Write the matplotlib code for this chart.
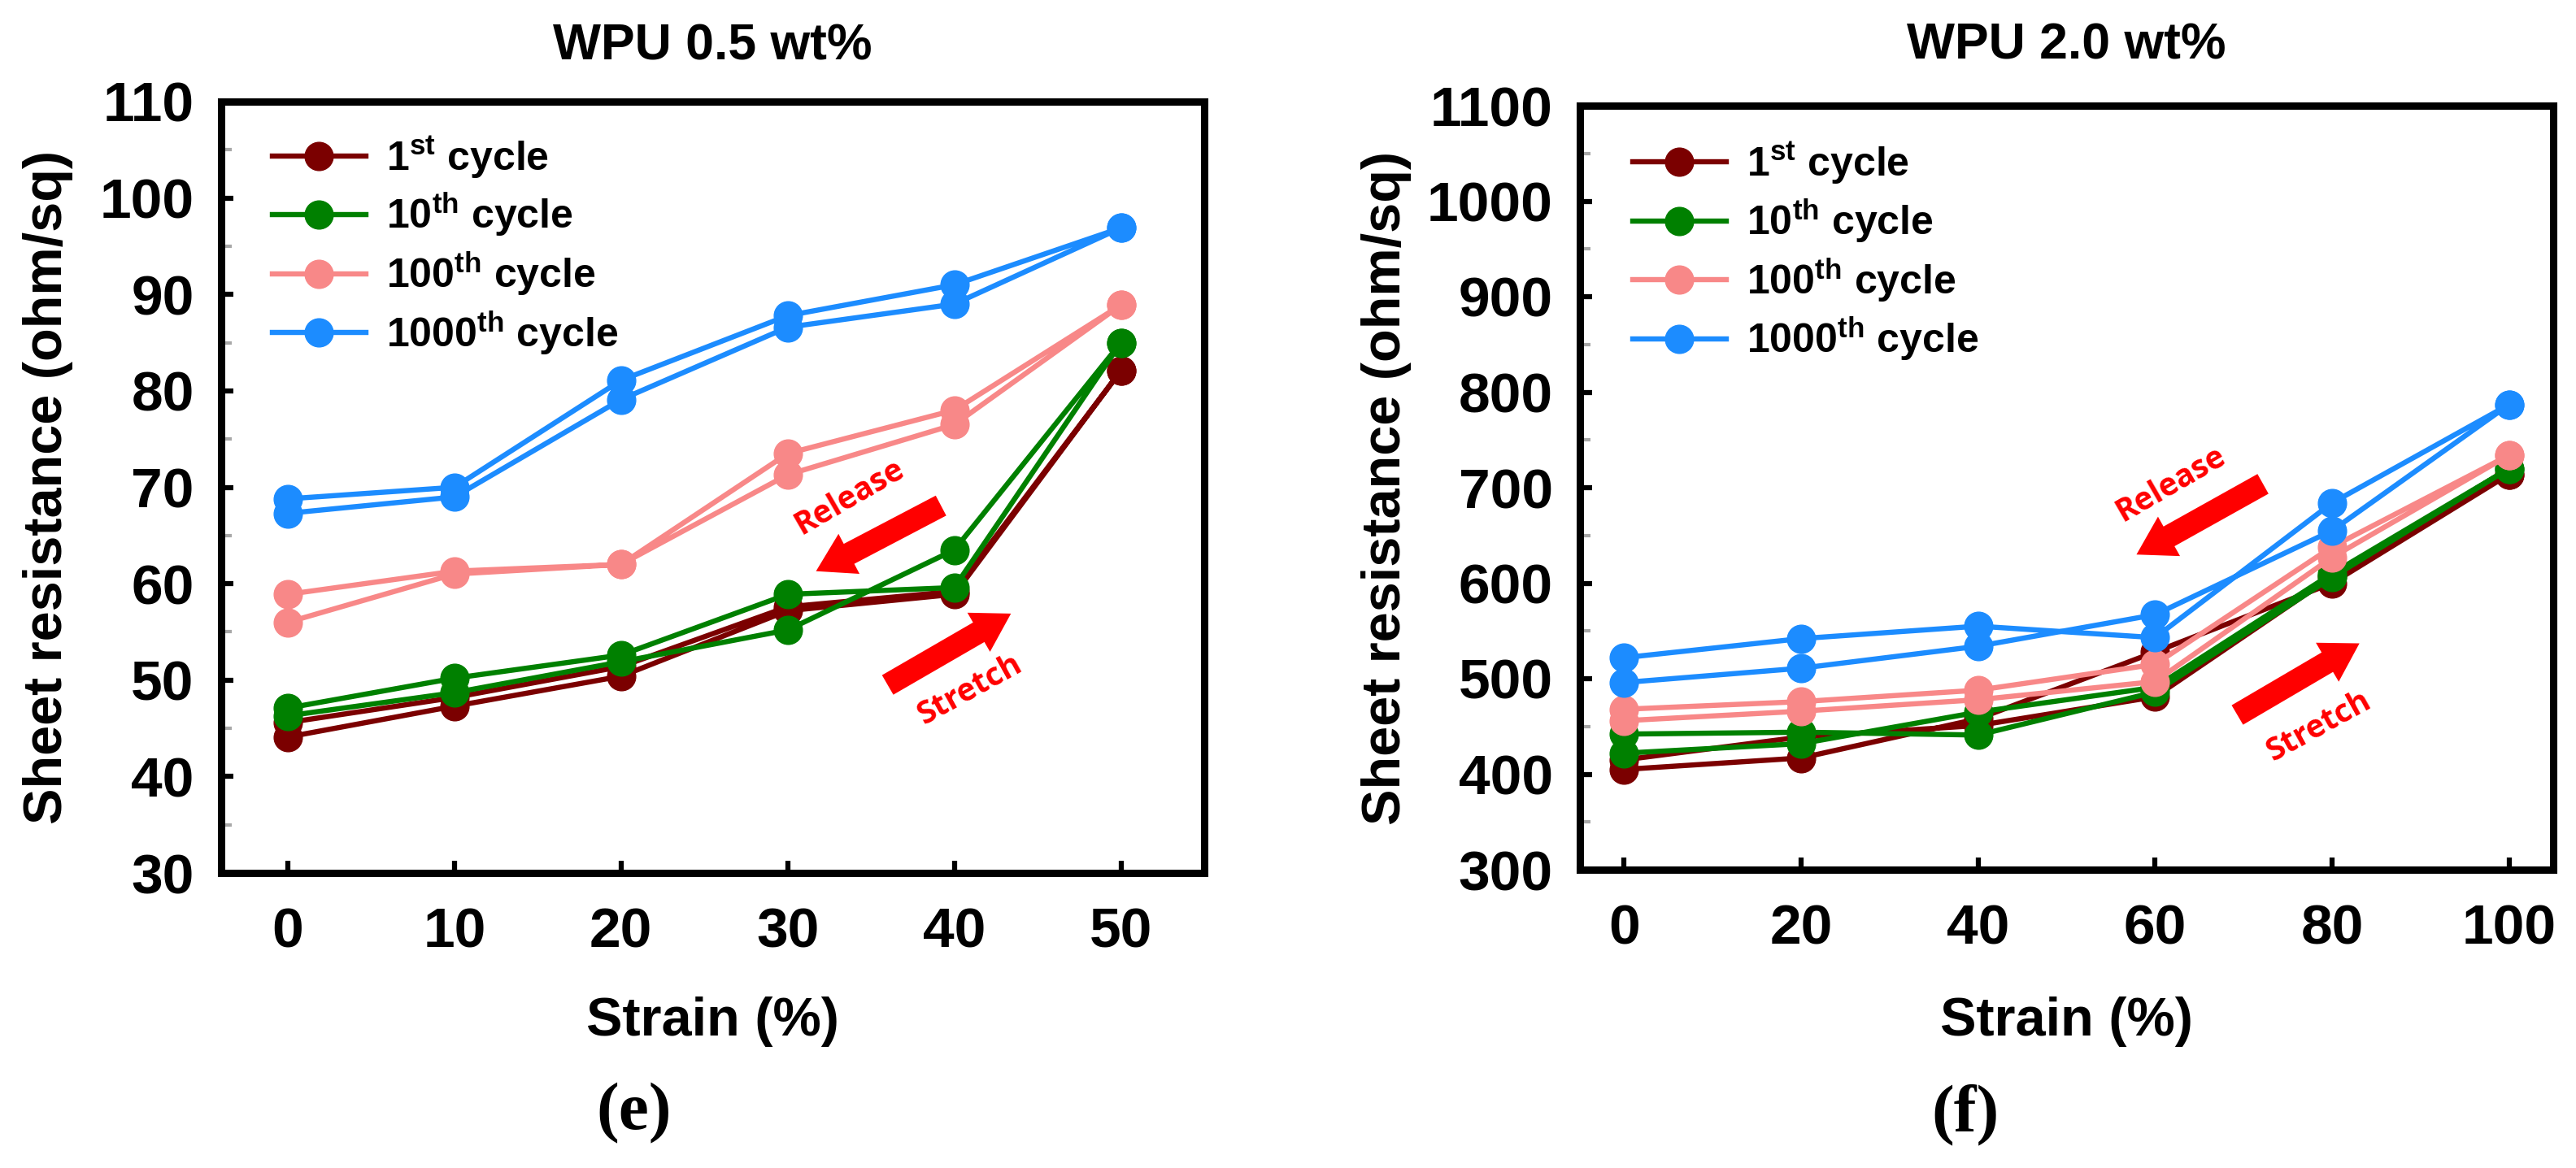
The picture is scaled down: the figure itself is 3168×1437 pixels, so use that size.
import matplotlib
matplotlib.use("Agg")
import matplotlib.pyplot as plt
from matplotlib.ticker import MultipleLocator

plt.rcParams['font.family'] = ['Liberation Sans', 'DejaVu Sans']
plt.rcParams['font.weight'] = 'bold'
plt.rcParams['axes.labelweight'] = 'bold'
plt.rcParams['mathtext.fontset'] = 'custom'
plt.rcParams['mathtext.rm'] = 'Liberation Sans'
plt.rcParams['mathtext.bf'] = 'Liberation Sans:bold'

# ---------------- data ----------------
cycle_labels = [r'1$^{\rm st}$ cycle', r'10$^{\rm th}$ cycle',
                r'100$^{\rm th}$ cycle', r'1000$^{\rm th}$ cycle']
colors = ['#7B0000', '#008000', '#F88888', '#1C8CFF']

# (e) WPU 0.5 wt%
strain_e = [0, 10, 20, 30, 40, 50]
e_1st_stretch = [44.1, 47.3, 50.4, 57.2, 58.9, 82.1]
e_1st_release = [82.1, 59.2, 57.6, 51.4, 48.2, 45.6]
e_10th_stretch = [46.3, 48.7, 51.9, 55.2, 63.5, 85.0]
e_10th_release = [85.0, 59.6, 58.9, 52.6, 50.2, 47.1]
e_100th_stretch = [56.0, 61.0, 62.0, 71.3, 76.5, 88.9]
e_100th_release = [88.9, 78.0, 73.5, 62.0, 61.3, 58.9]
e_1000th_stretch = [67.3, 69.0, 79.1, 86.6, 89.0, 96.9]
e_1000th_release = [96.9, 91.0, 87.8, 81.1, 70.0, 68.8]

# (f) WPU 2.0 wt%
strain_f = [0, 20, 40, 60, 80, 100]
f_1st_stretch = [405, 417, 458, 528, 600, 714]
f_1st_release = [714, 607, 481, 451, 439, 415]
f_10th_stretch = [422, 432, 465, 491, 610, 720]
f_10th_release = [720, 606, 486, 441, 444, 442]
f_100th_stretch = [456, 466, 478, 497, 627, 734]
f_100th_release = [734, 638, 515, 488, 476, 468]
f_1000th_stretch = [522, 542, 555, 543, 684, 787]
f_1000th_release = [787, 655, 567, 534, 511, 496]

yticks_e = [30, 40, 50, 60, 70, 80, 90, 100, 110]
yticks_f = [300, 400, 500, 600, 700, 800, 900, 1000, 1100]

fig = plt.figure(figsize=(31.68, 14.37), dpi=100)
axL = fig.add_axes([272/3168, 1-1074/1437, 1209/3168, 949/1437])
axR = fig.add_axes([1943/3168, 1-1070/1437, 1197/3168, 940/1437])


def draw(ax, strain, series, xlim, yticks, minor, title, arrows, texts,
         leg_anchor, ylab_x, xlab_y, title_y):
    handles = []
    for (st, rl), c, lab in zip(series, colors, cycle_labels):
        xs = list(strain) + list(strain[::-1])
        ys = list(st) + list(rl)
        h, = ax.plot(xs, ys, color=c, lw=4.6, marker='o', ms=25,
                     mec=c, mfc=c, label=lab, solid_joinstyle='round')
        handles.append(h)
    ax.set_xlim(*xlim)
    ax.set_ylim(yticks[0], yticks[-1])
    ax.set_xticks(strain)
    ax.set_yticks(yticks)
    ax.yaxis.set_minor_locator(MultipleLocator(minor))
    for s in ax.spines.values():
        s.set_linewidth(6.5)
    ax.tick_params(axis='both', which='major', direction='in', length=11,
                   width=4.5, labelsize=50)
    ax.tick_params(axis='y', which='major', pad=24)
    ax.tick_params(axis='x', which='major', pad=30)
    ax.tick_params(axis='y', which='minor', direction='in', length=9,
                   width=3, color='#A8A8A8')
    ax.set_xlabel('Strain (%)', fontsize=48, fontweight='bold', va='center')
    ax.xaxis.set_label_coords(0.5, xlab_y)
    ax.set_ylabel('Sheet resistance (ohm/sq)', fontsize=48,
                  fontweight='bold', va='center')
    ax.yaxis.set_label_coords(ylab_x, 0.5)
    ax.text(0.5, title_y, title, transform=ax.transAxes, ha='center',
            va='center', fontsize=45, fontweight='bold')
    ax.legend(handles=handles, loc='upper left',
              bbox_to_anchor=leg_anchor, frameon=False, borderpad=0,
              borderaxespad=0, handlelength=2.3, handletextpad=0.5,
              labelspacing=0.26, prop=dict(size=36, weight='bold'))
    for (tail, tip) in arrows:
        ax.annotate('', xy=tip, xytext=tail,
                    arrowprops=dict(arrowstyle='simple,head_length=1.65,head_width=2.0,tail_width=1.0',
                                    fc='#FF0000', ec='none', mutation_scale=20,
                                    shrinkA=0, shrinkB=0))
    for (txt, pos, rot) in texts:
        ax.text(pos[0], pos[1], txt, color='#FF0000', fontsize=28,
                fontweight='bold', family='Open Sans', rotation=rot,
                ha='center', va='center', rotation_mode='anchor')


series_e = [(e_1st_stretch, e_1st_release), (e_10th_stretch, e_10th_release),
            (e_100th_stretch, e_100th_release), (e_1000th_stretch, e_1000th_release)]
series_f = [(f_1st_stretch, f_1st_release), (f_10th_stretch, f_10th_release),
            (f_100th_stretch, f_100th_release), (f_1000th_stretch, f_1000th_release)]

draw(axL, strain_e, series_e, (-4, 55), yticks_e, 5, 'WPU 0.5 wt%',
     arrows=[((39.2, 68.1), (31.7, 61.3)), ((36.0, 49.5), (43.4, 56.9))],
     texts=[('Release', (33.7, 69.0), 30), ('Stretch', (40.9, 49.0), 29)],
     leg_anchor=(0.052, 0.958), ylab_x=-0.176, xlab_y=-0.193, title_y=1.072)
draw(axR, strain_f, series_f, (-5, 105), yticks_f, 50, 'WPU 2.0 wt%',
     arrows=[((72.2, 704), (57.9, 630)), ((69.3, 462), (83.1, 537))],
     texts=[('Release', (61.8, 704), 30), ('Stretch', (78.5, 450), 29)],
     leg_anchor=(0.054, 0.955), ylab_x=-0.199, xlab_y=-0.199, title_y=1.079)

fig.text(780/3168, 1-1370/1437, '(e)', fontsize=60, family='Liberation Serif',
         fontweight='bold', ha='center', va='center')
fig.text(2417/3168, 1-1372/1437, '(f)', fontsize=60, family='Liberation Serif',
         fontweight='bold', ha='center', va='center')

fig.savefig('out.png', dpi=100, facecolor='white')
